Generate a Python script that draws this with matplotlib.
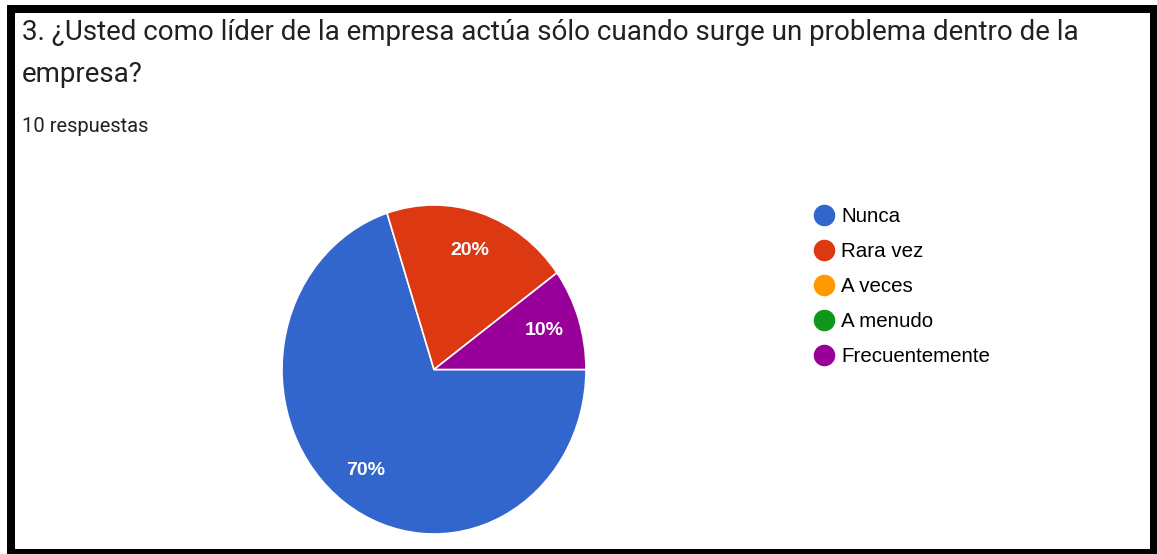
import matplotlib
matplotlib.use('Agg')
import matplotlib.pyplot as plt
from matplotlib.patches import Rectangle
from matplotlib.lines import Line2D

# datos de la encuesta
categorias = ['Nunca', 'Rara vez', 'A veces', 'A menudo', 'Frecuentemente']
respuestas = [7, 2, 0, 0, 1]
colores = ['#3366cc', '#dc3912', '#ff9900', '#109618', '#990099']
titulo1 = '3. ¿Usted como líder de la empresa actúa sólo cuando surge un problema dentro de la'
titulo2 = 'empresa?'
subtitulo = '10 respuestas'

W, H = 1157, 554
fig = plt.figure(figsize=(W / 100, H / 100), dpi=100)
fig.patch.set_facecolor('white')


def caja(x0, y0, x1, y1):
    # rectangulo negro en pixeles (y desde arriba)
    fig.patches.append(Rectangle((x0 / W, 1 - y1 / H), (x1 - x0) / W, (y1 - y0) / H,
                                 transform=fig.transFigure, facecolor='black', edgecolor='none'))


# marco negro
caja(7, 5, 1157, 13)
caja(7, 5, 15, 554)
caja(1150, 5, 1157, 554)
caja(7, 549, 1157, 554)

fig.text(22 / W, 1 - 33 / H, titulo1, fontsize=20, family='Roboto', color='#202124',
         va='center', ha='left')
fig.text(22 / W, 1 - 74 / H, titulo2, fontsize=20, family='Roboto', color='#202124',
         va='center', ha='left')
fig.text(22 / W, 1 - 127 / H, subtitulo, fontsize=14.5, family='Roboto', color='#202124',
         va='center', ha='left')

# pastel: solo las porciones con respuestas
valores = [v for v in respuestas if v > 0]
col_pie = [c for v, c in zip(respuestas, colores) if v > 0]

cx, cy, rx, ry = 434, 369.5, 152, 164.5
ax = fig.add_axes([(cx - rx) / W, (H - cy - ry) / H, 2 * rx / W, 2 * ry / H])
ax.pie(valores, colors=col_pie, startangle=0, counterclock=False,
       autopct=lambda p: f'{p:.0f}%', pctdistance=0.76,
       wedgeprops=dict(edgecolor='white', linewidth=1.2),
       textprops=dict(color='white', fontsize=14, family='Liberation Sans', fontweight='bold'))
ax.set_xlim(-1, 1)
ax.set_ylim(-1, 1)
ax.set_aspect('auto')
ax.axis('off')

# leyenda
handles = [Line2D([], [], marker='o', linestyle='', markersize=14.5, markerfacecolor=c,
                  markeredgecolor=c) for c in colores]
fig.legend(handles, categorias, loc='upper left', bbox_to_anchor=(801 / W, 1 - 199 / H),
           frameon=False, prop=dict(family='Liberation Sans', size=14.8),
           handletextpad=0.15, labelspacing=0.78, handlelength=1.4, borderaxespad=0)

fig.savefig('out.png', dpi=100, facecolor='white')
